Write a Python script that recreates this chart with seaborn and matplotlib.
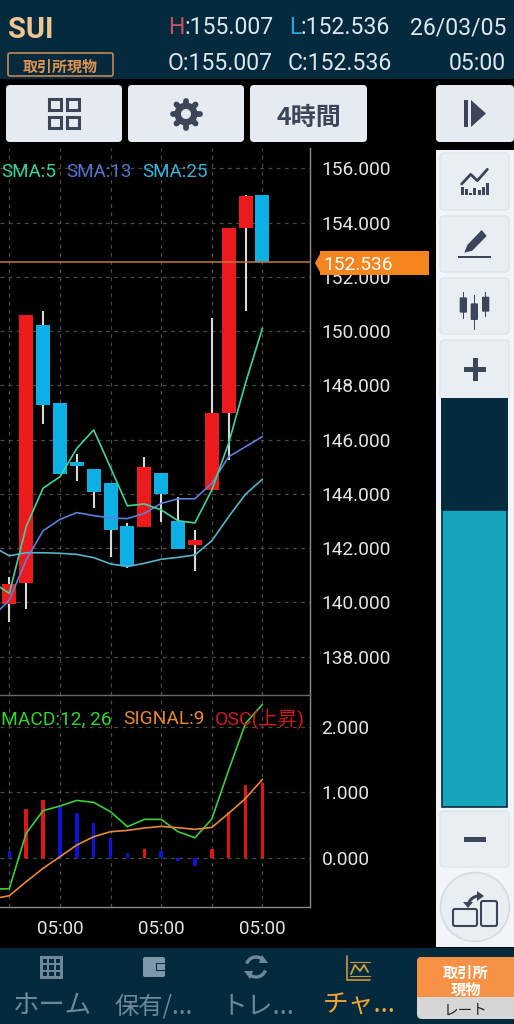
import numpy as np
import pandas as pd
import seaborn as sns
import matplotlib
matplotlib.use("Agg")
import matplotlib.pyplot as plt
from matplotlib.patches import FancyBboxPatch, Rectangle, Circle, Polygon, Arc

# ---------- data ----------
candle_idx = list(range(16))
opens  = [139.94,140.71,150.23,147.34,145.16,144.91,144.39,142.83,142.77,144.78,143.01,142.10,144.13,146.97,153.79,155.007]
closes = [140.68,150.61,147.27,144.73,145.04,144.08,142.67,141.34,144.98,143.98,141.98,142.30,146.99,153.82,155.00,152.536]
highs  = [140.95,150.61,150.76,147.34,145.47,144.91,144.39,142.94,145.37,144.78,143.89,142.67,150.47,153.82,155.007,155.007]
lows   = [139.27,139.77,146.58,144.73,144.48,143.49,141.66,141.27,142.77,142.96,141.98,141.17,144.13,145.25,150.74,152.536]

line_idx = list(range(-1, 16))
sma5  = [140.75,140.33,142.79,144.21,144.63,145.68,146.36,144.97,143.56,143.63,143.41,143.01,142.93,144.14,145.87,148.09,150.11]
sma13 = [139.46,140.09,141.56,142.64,143.06,143.31,143.20,143.11,143.09,143.28,143.65,143.82,143.82,144.39,145.37,145.74,146.11]
sma25 = [142.06,141.72,141.83,141.83,141.81,141.77,141.65,141.42,141.32,141.44,141.59,141.66,141.75,142.27,143.16,143.99,144.54]
macd   = [-0.48,-0.473,0.372,0.718,0.789,0.875,0.845,0.702,0.473,0.585,0.585,0.397,0.305,0.590,1.338,2.05,2.34]
signal = [-0.63,-0.58,-0.366,-0.163,0.015,0.193,0.32,0.397,0.417,0.453,0.478,0.458,0.433,0.463,0.677,0.906,1.196]
osc    = [0.107,0.738,0.88,0.768,0.677,0.524,0.295,0.066,0.137,0.107,-0.05,-0.127,0.127,0.70,1.104,1.135]
osc_up = [0,1,1,0,0,0,0,0,1,0,0,0,1,1,1,1]

price_ticks = [138,140,142,144,146,148,150,152,154,156]
macd_ticks = [0,1,2]
grid_x = [0,3,6,9,12,15]
time_labels = ["", "05:00", "", "05:00", "", "05:00"]
last_price = 152.536

# ---------- style ----------
W, H = 514, 1024
sns.set_theme(style="dark")
plt.rcParams['font.family'] = ['Roboto', 'Noto Sans CJK JP', 'DejaVu Sans']
CJK = ['Noto Sans CJK JP', 'DejaVu Sans']
NAVY = '#052a3e'; BTN = '#e6ebf2'; ICON = '#3d4659'; PANEL = '#f1f5fa'
RED = '#ec1a1a'; BLUE = '#0cb0e4'

fig = plt.figure(figsize=(W/100, H/100), dpi=100, facecolor='black')
def axpx(l, t, r, b):
    return fig.add_axes([l/W, 1-b/H, (r-l)/W, (b-t)/H], facecolor='black')

XLIM = (-0.551, 17.82)
PT, PB = 148, 695
ax = axpx(0, PT, 310, PB)
ax2 = axpx(0, PB, 310, 907)

# ---------- price panel ----------
ax.set_xlim(*XLIM)
ax.set_ylim(154-(PB-222.7)/27.12, 154+(222.7-PT)/27.12)
for i, o, c, h, l in zip(candle_idx, opens, closes, highs, lows):
    col = RED if c >= o else BLUE
    ax.vlines(i, l, h, color='#d8d8d8', lw=1.5, zorder=3)
    ax.bar(i, abs(c-o), bottom=min(o, c), width=0.83, color=col, zorder=4, linewidth=0)
lines = pd.DataFrame(dict(i=line_idx, sma5=sma5, sma13=sma13, sma25=sma25))
for name, col in (('sma25', '#55b4c8'), ('sma13', '#5d7fdc'), ('sma5', '#3fd49c')):
    sns.lineplot(data=lines, x='i', y=name, ax=ax, color=col, lw=1.2, estimator=None, legend=False, zorder=5)
ax.axhline(last_price, color='#c4743c', lw=1.1, zorder=6)

# ---------- MACD panel ----------
ax2.set_xlim(*XLIM)
ax2.set_ylim(-(907-857.7)/65.5, (857.7-PB)/65.5)
ax2.bar(candle_idx, osc, width=0.21, color=['#e01616' if u else '#0a14d8' for u in osc_up], zorder=3, linewidth=0)
m = pd.DataFrame(dict(i=line_idx, macd=macd, signal=signal))
sns.lineplot(data=m, x='i', y='macd', ax=ax2, color='#3ccf3c', lw=1.2, estimator=None, legend=False, zorder=5)
sns.lineplot(data=m, x='i', y='signal', ax=ax2, color='#e8883a', lw=1.2, estimator=None, legend=False, zorder=5)

for a, yt, fmt in ((ax, price_ticks, '{:.3f}'), (ax2, macd_ticks, '{:.3f}')):
    a.set_xlabel(''); a.set_ylabel('')
    a.set_axisbelow(True)
    a.yaxis.tick_right()
    a.set_yticks(yt)
    a.set_yticklabels([fmt.format(v) for v in yt])
    a.set_xticks(grid_x)
    a.grid(True, color='#4a4a4a', lw=0.9, ls=(0, (3, 3.5)))
    a.tick_params(axis='y', length=0, pad=8.2, labelsize=13.8, labelcolor='#e4e4e4')
    a.tick_params(axis='x', length=0)
    for s in a.spines.values():
        s.set_visible(False)
ax.set_xticklabels([])
ax2.set_xticklabels(time_labels)
ax2.tick_params(axis='x', pad=9, labelsize=13.5, labelcolor='#e4e4e4')
for a in (ax, ax2):
    a.spines['right'].set_visible(True); a.spines['right'].set_color('#8a8a8a'); a.spines['right'].set_linewidth(1)
ax2.spines['top'].set_visible(True); ax2.spines['top'].set_color('#6a6a6a'); ax2.spines['top'].set_linewidth(1)
ax2.spines['bottom'].set_visible(True); ax2.spines['bottom'].set_color('#8a8a8a'); ax2.spines['bottom'].set_linewidth(1)

# ---------- app chrome, pixel coordinates ----------
ui = fig.add_axes([0, 0, 1, 1], zorder=10)
ui.set_xlim(0, W); ui.set_ylim(H, 0); ui.axis('off'); ui.patch.set_alpha(0)

def rect(l, t, r, b, fc, ec='none', lw=0, z=1):
    ui.add_patch(Rectangle((l, t), r-l, b-t, fc=fc, ec=ec, lw=lw, zorder=z))
def rbox(l, t, r, b, fc, ec='none', lw=0, rad=4, z=1):
    ui.add_patch(FancyBboxPatch((l+rad, t+rad), r-l-2*rad, b-t-2*rad, boxstyle=f'round,pad={rad},rounding_size={rad}',
                                fc=fc, ec=ec, lw=lw, zorder=z))
def txt(x, y, s, size, color, ha='left', weight='normal', family=None, z=5):
    kw = {'family': family} if family else {}
    ui.text(x, y, s, fontsize=size, color=color, ha=ha, va='center_baseline', fontweight=weight, zorder=z, **kw)
def poly(pts, fc, z=4):
    ui.add_patch(Polygon(pts, closed=True, fc=fc, ec='none', zorder=z))
def pline(pts, color, lw, z=4):
    p = np.array(pts)
    ui.plot(p[:, 0], p[:, 1], color=color, lw=lw, zorder=z, solid_capstyle='round', solid_joinstyle='round')

# header
rect(0, 0, W, 79, NAVY)
txt(8, 27, 'SUI', 21, '#efc591', weight='bold')
rbox(8, 53, 113, 76, 'none', ec='#c4874f', lw=1.2, rad=2, z=3)
txt(60.5, 65, '取引所現物', 10.8, '#e0934f', ha='center', weight='bold', family=CJK)
HC = '#dde7ee'
txt(168, 25, 'H', 16.6, '#c8515c'); txt(184, 25, ':155.007', 16.6, HC)
txt(289, 25, 'L', 16.6, '#2ba3dc'); txt(301, 25, ':152.536', 16.6, HC)
txt(506, 25, '26/03/05', 16.6, HC, ha='right')
txt(168, 61, 'O:155.007', 16.6, HC); txt(288, 61, 'C:152.536', 16.6, HC)
txt(506, 61, '05:00', 16.6, HC, ha='right')

# top buttons
for l, r in ((6, 122), (128, 244), (250, 367), (436, 514)):
    rbox(l, 85, r, 142, BTN, rad=4)
for l, t, r, b in ((49, 99, 61, 110), (67, 99, 79, 110), (49, 117, 61, 128), (67, 117, 79, 128)):
    rect(l, t, r, b, 'none', ec=ICON, lw=2.2, z=4)
# gear
for ang in np.arange(0, 360, 45):
    ca, sa = np.cos(np.radians(ang)), np.sin(np.radians(ang))
    pline([(186+6*ca, 114+6*sa), (186+13.5*ca, 114+13.5*sa)], ICON, 4.2)
ui.add_patch(Circle((186, 114), 11.5, fc=ICON, ec='none', zorder=4))
ui.add_patch(Circle((186, 114), 5, fc=BTN, ec='none', zorder=5))
txt(309, 115, '4時間', 18, ICON, ha='center', weight='bold', family=CJK)
rect(464, 100, 468, 127, ICON, z=4)
poly([(471, 100), (486, 113.5), (471, 127)], ICON)

# side panel
rect(436, 150, W, 947, PANEL)
for t, b in ((153, 210), (216, 272), (278, 334), (340, 400), (811, 867)):
    rbox(440, t, 509, b, '#e9eef3', ec='#dde2e7', lw=0.8, rad=4, z=2)
# chart icon
zx = lambda z: 430+z/3
zy = lambda z: 140+z/3
for x0, top in ((98, 142), (110, 148), (122, 158), (134, 145), (148, 150), (160, 140), (172, 130)):
    rect(zx(x0-4), zy(top), zx(x0+4), zy(165), ICON, z=4)
pline([(zx(95), zy(132)), (zx(122), zy(103)), (zx(142), zy(122)), (zx(172), zy(88))], ICON, 2)
# pencil
poly([(zx(103), zy(338)), (zx(112), zy(315)), (zx(155), zy(270)), (zx(170), zy(288)), (zx(127), zy(332))], ICON)
rect(zx(85), zy(348), zx(183), zy(354), ICON, z=4)
# candles icon
for xc, bt, bb, wt, wb in ((100, 472, 518, 455, 538), (133, 490, 540, 465, 570), (167, 470, 515, 455, 530)):
    rect(zx(xc-2), zy(wt), zx(xc+2), zy(wb), ICON, z=4)
    rbox(zx(xc-11), zy(bt), zx(xc+11), zy(bb), ICON, rad=1, z=4)
# plus
rect(464, 367, 486, 372, ICON, z=4); rect(472.5, 358, 477.5, 381, ICON, z=4)
# slider
rect(441, 398, 508, 510, NAVY, z=3)
rect(442, 510, 507, 807, '#17a5bd', ec=NAVY, lw=1.2, z=3)
# minus
rect(464, 837, 486, 842, ICON, z=4)
# rotate button
ui.add_patch(Circle((475, 907), 34.5, fc='#e9eef3', ec='#d6dadf', lw=1.2, zorder=2))
rbox(453, 909, 477, 926, 'none', ec=ICON, lw=1.5, rad=2, z=4)
rbox(481, 901, 497, 926, 'none', ec=ICON, lw=1.5, rad=2, z=4)
ui.add_patch(Arc((479, 907), 22, 22, theta1=190, theta2=285, color=ICON, lw=2.2, zorder=4))
poly([(477, 891), (484, 896), (477, 901)], ICON)
poly([(463, 902), (473, 902), (468, 908)], ICON)

# bottom nav
rect(0, 948, W, H, NAVY)
NC = '#6d879b'
rect(40, 956, 63, 979, NC, z=3)
for i in range(3):
    for j in range(3):
        rect(42.5+6.5*i, 958.5+6.5*j, 47+6.5*i, 963+6.5*j, NAVY, z=4)
rbox(143, 957, 165, 977, '#7d97ab', rad=2, z=3)
rect(156, 963, 165, 971, NAVY, z=4); rect(157, 964, 165, 970, '#7d97ab', z=4)
ui.add_patch(Arc((256, 967), 20, 20, theta1=20, theta2=150, color=NC, lw=2.4, zorder=4))
ui.add_patch(Arc((256, 967), 20, 20, theta1=200, theta2=330, color=NC, lw=2.4, zorder=4))
poly([(262, 955), (268, 963), (259, 963)], NC); poly([(250, 979), (244, 971), (253, 971)], NC)
GC = '#c89a3e'
pline([(347, 956), (347, 980), (370, 980)], GC, 1.2)
pline([(350, 962), (370, 962)], GC, 0.8); pline([(350, 976), (370, 976)], GC, 0.8)
pline([(351, 974), (355, 965), (360, 971), (364, 965), (368, 972)], GC, 1.4)
txt(52, 1003, 'ホーム', 19, NC, ha='center', family=CJK)
txt(153.5, 1003, '保有/...', 17.5, NC, ha='center', family=CJK)
txt(258, 1003, 'トレ...', 18.5, NC, ha='center', family=CJK)
txt(359, 1003, 'チャ...', 18.5, '#efa534', ha='center', family=CJK)
rbox(417, 957, 520, 1019, '#d6d6d6', rad=5, z=3)
rbox(417, 957, 520, 1000, '#f79145', rad=5, z=3)
rect(417, 997, 514, 1003, '#d6d6d6', z=3)
txt(465.5, 971, '取引所', 11, 'white', ha='center', weight='bold', family=CJK)
txt(465.5, 988, '現物', 11, 'white', ha='center', weight='bold', family=CJK)
txt(465.5, 1009, 'レート', 10.5, '#222222', ha='center', family=CJK)

# price tag
poly([(315, 263), (320, 254), (320, 251), (429, 251), (429, 275), (320, 275), (320, 272)], '#f5851f')
txt(323, 263.5, f'{last_price:.3f}', 13.8, 'white')

# legends
LY = 170
txt(1, LY, 'SMA:5', 13.5, '#34d39c'); txt(66, LY, 'SMA:13', 13.5, '#4d75d2'); txt(142, LY, 'SMA:25', 13.5, '#36b4dc')
MY = 717
txt(1, MY, 'MACD:12, 26', 13.8, '#2fd62f'); txt(123, MY, 'SIGNAL:9', 13.8, '#e8882e')
txt(215, MY, 'OSC(上昇)', 14, '#d41818')

fig.savefig('out.png', dpi=100, facecolor='black')
